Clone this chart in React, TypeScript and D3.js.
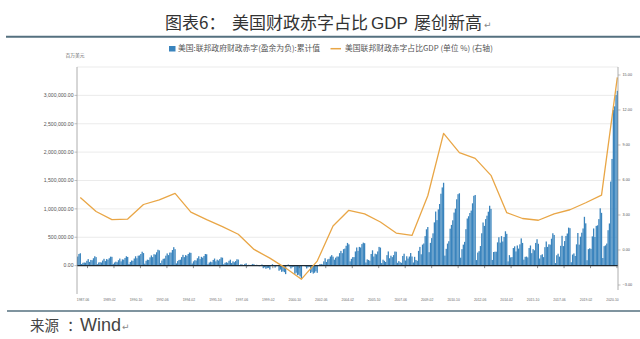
import React from "react";
import * as d3 from "d3";

// Fiscal years (Oct–Sep). FY1986 only has Jul–Sep in the chart.
const fiscalYears = [
  1986, 1987, 1988, 1989, 1990, 1991, 1992, 1993, 1994, 1995, 1996, 1997,
  1998, 1999, 2000, 2001, 2002, 2003, 2004, 2005, 2006, 2007, 2008, 2009,
  2010, 2011, 2012, 2013, 2014, 2015, 2016, 2017, 2018, 2019, 2020,
];

// Cumulative federal deficit, fiscal-year-to-date, in billions USD (×1000 = 百万美元)
const cumulativeDeficit: number[][] = [
  [160, 205, 218],
  [28, 50, 55, 52, 85, 115, 65, 100, 95, 130, 165, 150],
  [25, 55, 60, 55, 90, 120, 80, 115, 105, 130, 158, 155],
  [30, 55, 70, 60, 95, 125, 75, 110, 105, 135, 165, 153],
  [30, 65, 90, 85, 125, 165, 130, 175, 180, 205, 245, 221],
  [35, 85, 105, 100, 145, 180, 150, 200, 195, 235, 280, 269],
  [45, 90, 120, 125, 175, 215, 185, 230, 230, 275, 325, 290],
  [40, 80, 100, 105, 150, 190, 150, 185, 175, 205, 230, 225],
  [38, 75, 95, 90, 130, 165, 115, 155, 140, 170, 205, 200],
  [25, 55, 70, 60, 100, 125, 75, 105, 90, 115, 145, 140],
  [25, 50, 60, 50, 85, 105, 45, 75, 60, 80, 112, 107],
  [10, 25, 20, 8, 30, 40, -10, 15, 5, 15, 30, 22],
  [5, 15, 5, -10, 10, 20, -45, -30, -55, -45, -40, -69],
  [10, 25, 0, -35, -10, 10, -90, -70, -110, -100, -115, -150],
  [5, 20, -15, -50, -30, -20, -145, -125, -170, -160, -190, -240],
  [-5, 10, -15, -50, -30, -20, -130, -110, -140, -125, -100, -127],
  [0, 25, 30, 20, 75, 130, 65, 110, 120, 160, 185, 158],
  [105, 140, 160, 160, 220, 260, 220, 290, 300, 350, 400, 375],
  [75, 120, 150, 150, 250, 320, 260, 330, 320, 380, 405, 395],
  [55, 110, 100, 85, 205, 270, 160, 210, 200, 250, 330, 318],
  [45, 105, 85, 65, 185, 250, 130, 175, 150, 185, 248, 245],
  [50, 80, 60, 50, 170, 210, 90, 165, 125, 160, 222, 161],
  [55, 155, 100, 85, 260, 330, 200, 370, 390, 520, 640, 680],
  [237, 401, 485, 569, 762, 953, 802, 991, 1086, 1267, 1378, 1460],
  [176, 296, 388, 430, 651, 717, 799, 935, 1004, 1169, 1259, 1275],
  [140, 290, 370, 419, 642, 830, 870, 927, 970, 1098, 1230, 1245],
  [98, 230, 255, 345, 570, 760, 700, 820, 880, 950, 1055, 1000],
  [100, 240, 245, 245, 410, 500, 405, 520, 425, 505, 605, 560],
  [75, 185, 145, 150, 310, 340, 250, 355, 300, 375, 480, 400],
  [105, 155, 160, 145, 310, 355, 220, 290, 270, 400, 465, 385],
  [125, 185, 200, 150, 325, 425, 330, 375, 370, 475, 570, 540],
  [45, 183, 210, 158, 349, 526, 344, 433, 523, 566, 670, 660],
  [60, 195, 215, 170, 375, 575, 370, 510, 580, 655, 860, 745],
  [95, 290, 305, 295, 515, 655, 505, 700, 710, 820, 1010, 930],
  [134, 343, 357, 389, 624, 743, 1481, 1880, 2744, 2807, 3005, 3080],
];

// Deficit as % of GDP (right axis), one point per fiscal year
const deficitPctGDP = [
  4.5, 3.3, 2.6, 2.65, 3.9, 4.3, 4.85, 3.25, 2.6, 2.0, 1.35, 0.05,
  -0.7, -1.55, -2.5, -0.95, 2.05, 3.4, 3.1, 2.4, 1.45, 1.25, 4.65, 10.0,
  8.35, 7.85, 6.4, 3.2, 2.7, 2.55, 3.1, 3.45, 4.05, 4.7, 14.8,
];

const xTickLabels = [
  "1987-06", "1989-02", "1990-10", "1992-06", "1994-02", "1995-10", "1997-06",
  "1999-02", "2000-10", "2002-06", "2004-02", "2005-10", "2007-06", "2009-02",
  "2010-10", "2012-06", "2014-02", "2015-10", "2017-06", "2019-02", "2020-10",
];
const leftTicks = [0, 500, 1000, 1500, 2000, 2500, 3000];
const leftGrid = [500, 1000, 1500, 2000, 2500, 3000, 3500];
const rightTicks = [-3, 0, 3, 6, 9, 12, 15];

const BAR = "#3a84bd";
const LINE = "#e9a646";
const RULE = "#55707f";
const CJK = "'Noto Sans CJK SC', 'Noto Sans', sans-serif";
const LAT = "'Liberation Sans', Arial, sans-serif";

export default function App() {
  const left = 77, right = 618, top = 67, bottom = 294;
  const key = d3.timeFormat("%Y-%m");

  const bars = fiscalYears.flatMap((fy, k) => {
    const vals = cumulativeDeficit[k];
    const end = new Date(fy, 8, 1);
    return vals.map((v, i) => ({
      date: d3.timeMonth.offset(end, i - (vals.length - 1)),
      value: v,
    }));
  });

  const x = d3.scaleBand<string>()
    .domain(bars.map((d) => key(d.date)))
    .range([left, right])
    .padding(0.02);
  const yL = d3.scaleLinear().domain([-500, 3500]).range([bottom, top]);
  const yR = d3.scaleLinear().domain([-3, 15]).range([285, 75]);

  const linePts = fiscalYears.map((fy, k) => ({
    x: (x(key(new Date(fy, 8, 1))) ?? 0) + x.bandwidth() / 2,
    v: deficitPctGDP[k],
  }));
  const linePath = d3.line<{ x: number; v: number }>()
    .x((d) => d.x)
    .y((d) => yR(d.v))(linePts) || "";

  const xt = d3.scalePoint<string>().domain(xTickLabels).range([left + 10.5, right - 1]);
  const fmtL = (d: number) => d3.format(",.2f")(d * 1000);
  const fmtR = d3.format(".2f");
  const y0 = yL(0);

  return (
    <svg width={640} height={339} style={{ position: "absolute", left: 0, top: 0, background: "#fff" }}>
      {/* Title */}
      <g fill="#333" fontFamily={CJK} fontSize={17}>
        <text x={165} y={29}>图表6：</text>
        <text x={232} y={29}>美国财政赤字占比</text>
        <text x={371} y={29} fontFamily={LAT}>GDP</text>
        <text x={414} y={29}>屡创新高</text>
        <text x={484} y={28} fontSize={9} fill="#888" fontFamily="'DejaVu Sans'">↵</text>
      </g>
      <line x1={6} x2={640} y1={36.8} y2={36.8} stroke={RULE} strokeWidth={2} />

      {/* Legend */}
      <rect x={169} y={46} width={6.5} height={5.5} fill={BAR} />
      <text x={178} y={51.4} fontSize={7.8} fill="#555" fontFamily={CJK}>美国:联邦政府财政赤字(盈余为负):累计值</text>
      <line x1={330.5} x2={341} y1={48.7} y2={48.7} stroke={LINE} strokeWidth={1.5} />
      <text x={345} y={51.4} fontSize={7.8} fill="#555" fontFamily={CJK}>美国联邦财政赤字占比GDP (单位 %) (右轴)</text>

      <text x={75} y={57} fontSize={4.8} fill="#666" fontFamily={CJK} textAnchor="middle">百万美元</text>

      {/* Grid */}
      {leftGrid.map((t) => (
        <line key={t} x1={left} x2={right} y1={yL(t)} y2={yL(t)} stroke="#e6e6e6" strokeWidth={0.8} />
      ))}

      {/* Bars */}
      {bars.map((d, i) => (
        <rect
          key={i}
          x={x(key(d.date))}
          width={x.bandwidth()}
          y={yL(Math.max(0, d.value))}
          height={Math.abs(yL(d.value) - yL(0))}
          fill={BAR}
        />
      ))}

      {/* Zero line */}
      <line x1={left} x2={right} y1={y0} y2={y0} stroke="#1f2a33" strokeWidth={1.3} />
      {xTickLabels.map((l) => (
        <line key={l} x1={xt(l)} x2={xt(l)} y1={y0} y2={y0 + 2.5} stroke="#444" strokeWidth={0.6} />
      ))}

      {/* Line */}
      <path d={linePath} fill="none" stroke={LINE} strokeWidth={1.3} strokeLinejoin="round" />

      {/* Left axis */}
      <line x1={left} x2={left} y1={top} y2={bottom} stroke="#999" strokeWidth={0.8} />
      {leftTicks.map((t) => (
        <g key={t}>
          <line x1={left - 2.5} x2={left} y1={yL(t)} y2={yL(t)} stroke="#999" strokeWidth={0.6} />
          <text x={left - 3.5} y={yL(t)} dy="0.35em" textAnchor="end" fontSize={5.1} fill="#555" fontFamily={LAT}>
            {fmtL(t)}
          </text>
        </g>
      ))}

      {/* Right axis */}
      <line x1={right} x2={right} y1={top} y2={290} stroke="#999" strokeWidth={0.8} />
      {rightTicks.map((t) => (
        <g key={t}>
          <line x1={right} x2={right + 2.5} y1={yR(t)} y2={yR(t)} stroke="#999" strokeWidth={0.6} />
          <text x={right + 4.5} y={yR(t)} dy="0.35em" fontSize={3.8} fill="#555" fontFamily={LAT}>
            {fmtR(t)}
          </text>
        </g>
      ))}

      {/* X labels */}
      {xTickLabels.map((l) => (
        <text key={l} x={(xt(l) ?? 0) - 4.5} y={300.5} textAnchor="middle" fontSize={3.4} fill="#666" fontFamily={LAT}>
          {l}
        </text>
      ))}

      {/* Source */}
      <line x1={7} x2={640} y1={311} y2={311} stroke={RULE} strokeWidth={1.5} />
      <g fill="#444">
        <text x={30} y={331} fontSize={14.5} fontFamily={CJK}>来源</text>
        <text x={67} y={331} fontSize={14.5} fontFamily={CJK}>：</text>
        <text x={80} y={331} fontSize={18} fontFamily={LAT}>Wind</text>
        <text x={122} y={330} fontSize={9} fill="#888" fontFamily="'DejaVu Sans'">↵</text>
      </g>
    </svg>
  );
}
